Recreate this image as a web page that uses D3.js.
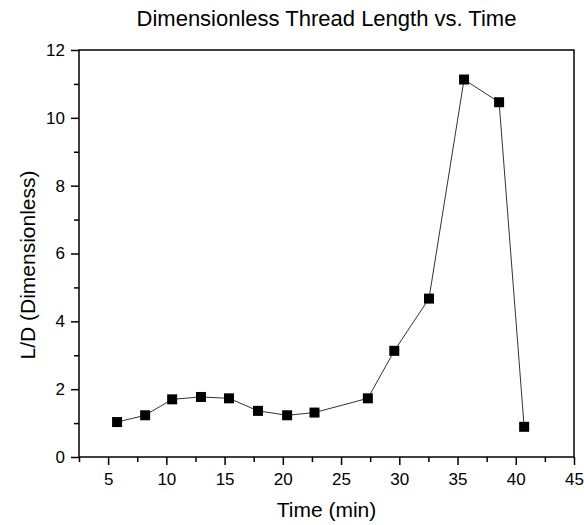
<!DOCTYPE html>
<html>
<head>
  <meta charset="utf-8">
  <script src="https://d3js.org/d3.v7.min.js"></script>
  <style>
    body { margin: 0; background: #fff; }
    text { font-family: "Liberation Sans", Arial, sans-serif; fill: #000; }
  </style>
</head>
<body>
  <div id="chart"></div>
  <script>
    var timeMin = [5.77, 8.18, 10.5, 12.97, 15.38, 17.87, 20.37, 22.72, 27.3, 29.57, 32.55, 35.56, 38.57, 40.72];
    var lengthRatio = [1.03, 1.23, 1.70, 1.77, 1.73, 1.36, 1.23, 1.31, 1.73, 3.13, 4.67, 11.13, 10.46, 0.89];
    var xTicks = [5, 10, 15, 20, 25, 30, 35, 40, 45];
    var yTicks = [0, 2, 4, 6, 8, 10, 12];

    var data = timeMin.map(function (t, i) { return { t: t, v: lengthRatio[i] }; });

    var W = 584, H = 525;
    var margin = { top: 50, right: 10, bottom: 68, left: 79 },
      width = W - margin.left - margin.right,
      height = H - margin.top - margin.bottom;

    var svg = d3.select("#chart").append("svg")
      .attr("width", W).attr("height", H);
    var g = svg.append("g")
      .attr("transform", "translate(" + margin.left + "," + margin.top + ")");

    var x = d3.scaleLinear().domain([2.5, 45]).range([0, width]);
    var y = d3.scaleLinear().domain([0, 12]).range([height, 0]);

    // minor ticks
    var xMinor = d3.range(2.5, 45.01, 2.5).filter(function (d) { return xTicks.indexOf(d) < 0; });
    var yMinor = d3.range(1, 12, 2);

    g.append("g")
      .attr("transform", "translate(0," + height + ")")
      .call(d3.axisBottom(x).tickValues(xMinor).tickSize(5).tickFormat(""))
      .call(function (a) { a.select(".domain").remove(); });
    g.append("g")
      .call(d3.axisLeft(y).tickValues(yMinor).tickSize(5).tickFormat(""))
      .call(function (a) { a.select(".domain").remove(); });

    // major axes
    var xAxis = g.append("g")
      .attr("transform", "translate(0," + height + ")")
      .call(d3.axisBottom(x).tickValues(xTicks).tickSize(8).tickSizeOuter(0).tickPadding(8));
    xAxis.selectAll("text").style("font-size", "17px");
    xAxis.select(".domain").remove();

    var yAxis = g.append("g")
      .call(d3.axisLeft(y).tickValues(yTicks).tickSize(8).tickSizeOuter(0).tickPadding(6));
    yAxis.selectAll("text").style("font-size", "17px");
    yAxis.select(".domain").remove();

    g.selectAll(".tick line").attr("stroke-width", 1.5);

    // frame
    g.append("rect")
      .attr("width", width).attr("height", height)
      .attr("fill", "none").attr("stroke", "#000").attr("stroke-width", 1.5);

    // line
    g.append("path")
      .datum(data)
      .attr("fill", "none")
      .attr("stroke", "#333")
      .attr("stroke-width", 1)
      .attr("d", d3.line().x(function (d) { return x(d.t); }).y(function (d) { return y(d.v); }));

    // square markers
    g.selectAll("rect.pt")
      .data(data)
      .enter()
      .append("rect")
      .attr("class", "pt")
      .attr("x", function (d) { return x(d.t) - 5; })
      .attr("y", function (d) { return y(d.v) - 5; })
      .attr("width", 10).attr("height", 10)
      .attr("fill", "#000");

    // titles
    svg.append("text")
      .attr("x", margin.left + width / 2).attr("y", 26)
      .attr("text-anchor", "middle")
      .style("font-size", "22px")
      .text("Dimensionless Thread Length vs. Time");

    svg.append("text")
      .attr("x", margin.left + width / 2).attr("y", 517)
      .attr("text-anchor", "middle")
      .style("font-size", "21px")
      .text("Time (min)");

    svg.append("text")
      .attr("transform", "translate(35,265)rotate(-90)")
      .attr("text-anchor", "middle")
      .style("font-size", "21px")
      .text("L/D (Dimensionless)");
  </script>
</body>
</html>
